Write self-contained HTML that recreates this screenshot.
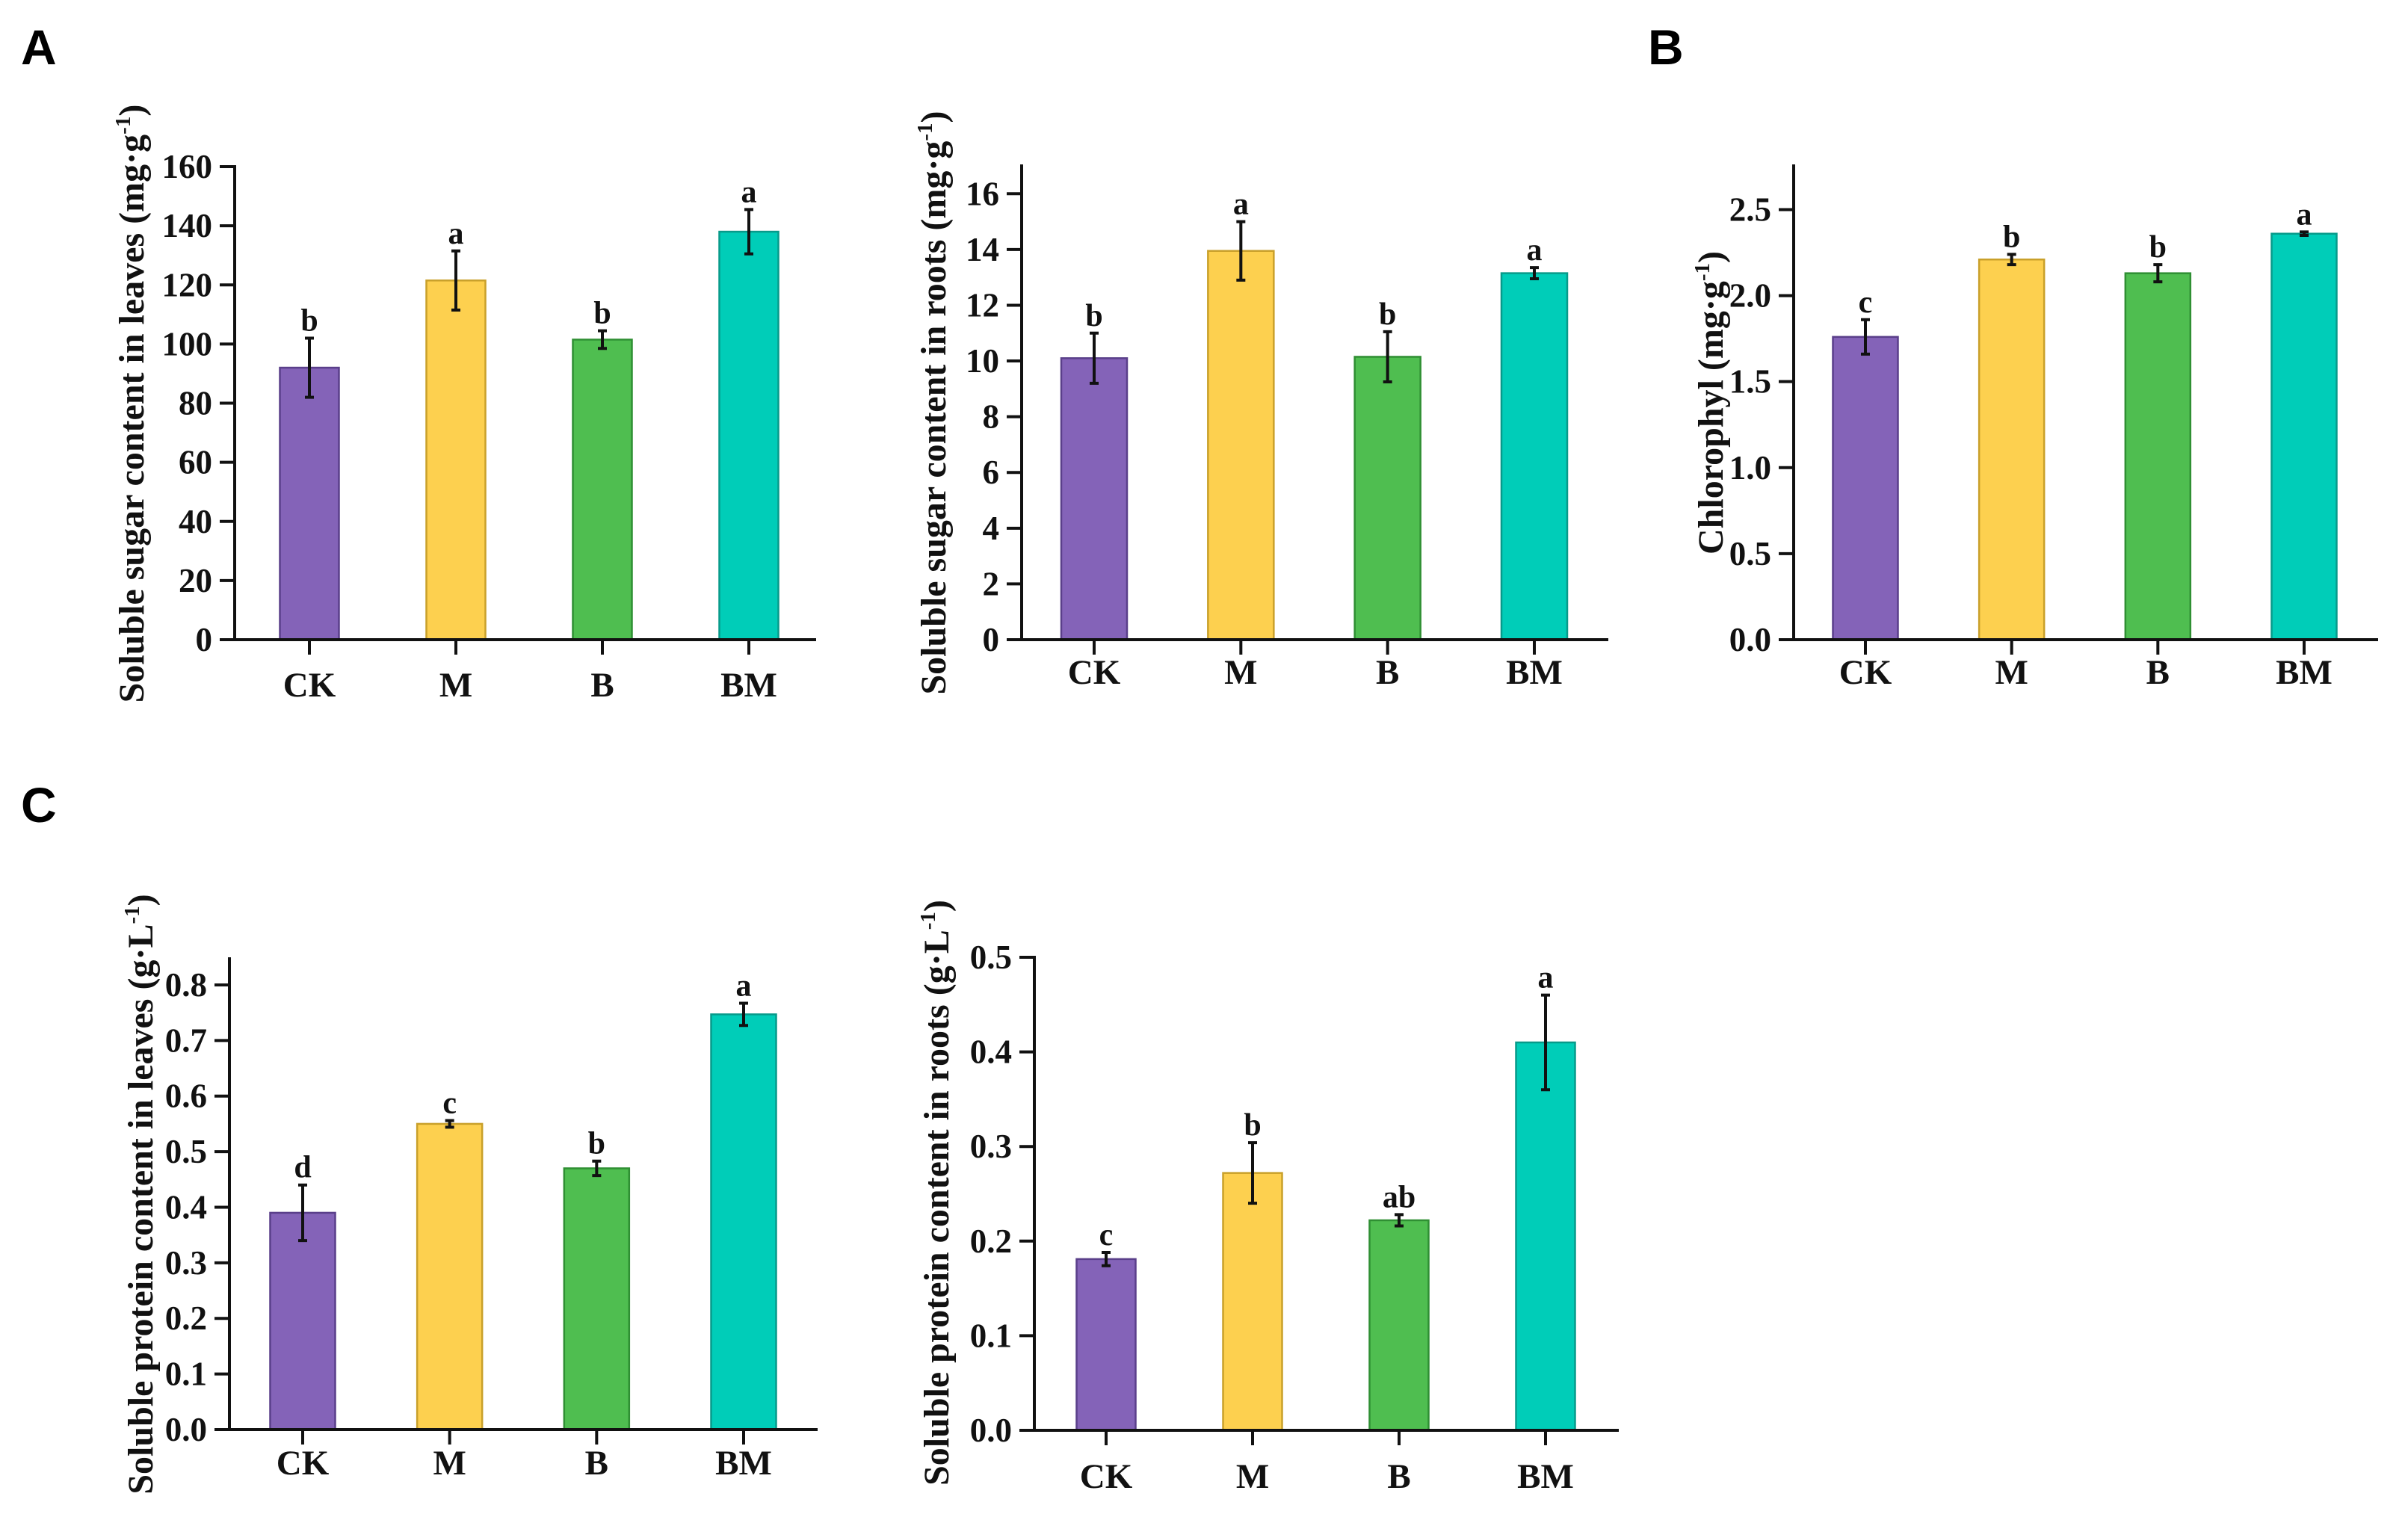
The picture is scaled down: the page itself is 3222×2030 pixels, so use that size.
<!DOCTYPE html>
<html><head><meta charset="utf-8">
<style>
html,body{margin:0;padding:0;background:#fff;}
svg{display:block;}
text{font-family:"Liberation Serif",serif;font-weight:bold;fill:#111;}
.pl{font-family:"Liberation Sans",sans-serif;font-weight:bold;font-size:66px;fill:#000;}
</style></head>
<body>
<svg id="fig" width="3222" height="2030" viewBox="0 0 3222 2030" xmlns="http://www.w3.org/2000/svg">
<text class="pl" x="28" y="86">A</text>
<text class="pl" x="2205" y="86">B</text>
<text class="pl" x="28" y="1100">C</text>
</svg>
<script>
const categories = ["CK","M","B","BM"];
const colors = ["#8463b8","#fdd04f","#4fbe50","#00cdb8"];
const strokes = ["#5a3f8a","#c9a02a","#2f8f33","#079a8a"];

const sugarLeavesValues = [92, 121.5, 101.5, 138];
const sugarLeavesErrors = [10, 10, 3, 7.5];
const sugarLeavesLetters = ["b","a","b","a"];
const sugarLeavesTicks = [0,20,40,60,80,100,120,140,160];

const sugarRootsValues = [10.1, 13.95, 10.15, 13.15];
const sugarRootsErrors = [0.9, 1.05, 0.9, 0.2];
const sugarRootsLetters = ["b","a","b","a"];
const sugarRootsTicks = [0,2,4,6,8,10,12,14,16];

const chlValues = [1.76, 2.21, 2.13, 2.36];
const chlErrors = [0.1, 0.03, 0.05, 0.01];
const chlLetters = ["c","b","b","a"];
const chlTicks = ["0.0","0.5","1.0","1.5","2.0","2.5"];

const protLeavesValues = [0.39, 0.55, 0.47, 0.747];
const protLeavesErrors = [0.05, 0.006, 0.013, 0.02];
const protLeavesLetters = ["d","c","b","a"];
const protLeavesTicks = ["0.0","0.1","0.2","0.3","0.4","0.5","0.6","0.7","0.8"];

const protRootsValues = [0.181, 0.272, 0.222, 0.41];
const protRootsErrors = [0.007, 0.032, 0.006, 0.05];
const protRootsLetters = ["c","b","ab","a"];
const protRootsTicks = ["0.0","0.1","0.2","0.3","0.4","0.5"];

const svg = document.getElementById('fig');
const NS = "http://www.w3.org/2000/svg";
function mk(tag, attrs, parent){
  const e = document.createElementNS(NS, tag);
  for (const k in attrs) e.setAttribute(k, attrs[k]);
  (parent||svg).appendChild(e);
  return e;
}

function chart(cfg){
  const g = mk('g', {});
  
  
  const y = v => cfg.y0 - v / cfg.ymax * (cfg.y0 - cfg.ytop);
  const step = (cfg.c3 - cfg.c0) / 3;
  const x = i => cfg.c0 + i * step;
  cfg.values.forEach((v,i)=>{
    const r = mk('rect', {x: x(i)-cfg.bw/2, y: y(v), width: cfg.bw, height: cfg.y0 - y(v), fill: colors[i], stroke: strokes[i], 'stroke-width': 2.5}, g);
    
    
    const e = cfg.errors[i];
    const eb = mk('path', {d: `M${x(i)},${y(v+e)}V${y(v-e)}M${x(i)-6},${y(v+e)}H${x(i)+6}M${x(i)-6},${y(v-e)}H${x(i)+6}`, stroke:'#111', 'stroke-width':4, fill:'none'}, g);
    
    
    const t = mk('text', {x: x(i), y: y(v+e) - 10, 'text-anchor':'middle', 'font-size': 42}, g);
    t.textContent = cfg.letters[i];
    
    
    const c = mk('text', {x: x(i), y: cfg.labelY, 'text-anchor':'middle', 'font-size': 47}, g);
    c.textContent = categories[i];
    
    
    const tk = mk('line', {x1:x(i), x2:x(i), y1:cfg.y0, y2:cfg.y0+20, stroke:'#111','stroke-width':4}, g);
    
    
  });
  cfg.ticks.forEach(tv=>{
    const v = parseFloat(tv);
    const tk = mk('line', {x1:cfg.ax-20, x2:cfg.ax, y1:y(v), y2:y(v), stroke:'#111','stroke-width':4}, g);
    
    
    const t = mk('text', {x: cfg.ax-30, y: y(v)+15, 'text-anchor':'end', 'font-size': 45}, g);
    t.textContent = tv;
    
    
  });
  const ya = mk('line', {x1:cfg.ax, x2:cfg.ax, y1:cfg.ytop-2, y2:cfg.y0+2, stroke:'#111','stroke-width':4}, g);
  
  
  const xa = mk('line', {x1:cfg.ax-20, x2:cfg.xend, y1:cfg.y0, y2:cfg.y0, stroke:'#111','stroke-width':4}, g);
  
  
  const tt = mk('text', {x:0, y:0, 'text-anchor':'middle', 'font-size': 48, transform:`translate(${cfg.tx},${cfg.tcy}) rotate(-90)`}, g);
  tt.innerHTML = cfg.title;
  
  
}

const sup = '<tspan dy="-18" font-size="29">-1</tspan><tspan dy="18">)</tspan>';
chart({name:'chart-sugar-leaves', values:sugarLeavesValues, errors:sugarLeavesErrors, letters:sugarLeavesLetters, ticks:sugarLeavesTicks,
  ax:314, y0:856, ytop:223, ymax:160, c0:414, c3:1002, bw:79, xend:1092, labelY:932,
  tx:192, tcy:540, title:'Soluble sugar content in leaves (mg·g'+sup});
chart({name:'chart-sugar-roots', values:sugarRootsValues, errors:sugarRootsErrors, letters:sugarRootsLetters, ticks:sugarRootsTicks,
  ax:1367, y0:856, ytop:222, ymax:17, c0:1464, c3:2053, bw:88, xend:2152, labelY:915,
  tx:1265, tcy:539, title:'Soluble sugar content in roots (mg·g'+sup});
chart({name:'chart-chlorophyll', values:chlValues, errors:chlErrors, letters:chlLetters, ticks:chlTicks,
  ax:2400, y0:856, ytop:222, ymax:2.754, c0:2496, c3:3083, bw:87, xend:3182, labelY:915,
  tx:2305, tcy:539, title:'Chlorophyl (mg·g'+sup});
chart({name:'chart-protein-leaves', values:protLeavesValues, errors:protLeavesErrors, letters:protLeavesLetters, ticks:protLeavesTicks,
  ax:307, y0:1913, ytop:1283, ymax:0.847, c0:405, c3:995, bw:87, xend:1094, labelY:1973,
  tx:204, tcy:1598, title:'Soluble protein content in leaves (g·L'+sup});
chart({name:'chart-protein-roots', values:protRootsValues, errors:protRootsErrors, letters:protRootsLetters, ticks:protRootsTicks,
  ax:1384, y0:1914, ytop:1281, ymax:0.5, c0:1480, c3:2068, bw:79, xend:2166, labelY:1991,
  tx:1269, tcy:1596, title:'Soluble protein content in roots (g·L'+sup});
</script>
</body></html>
